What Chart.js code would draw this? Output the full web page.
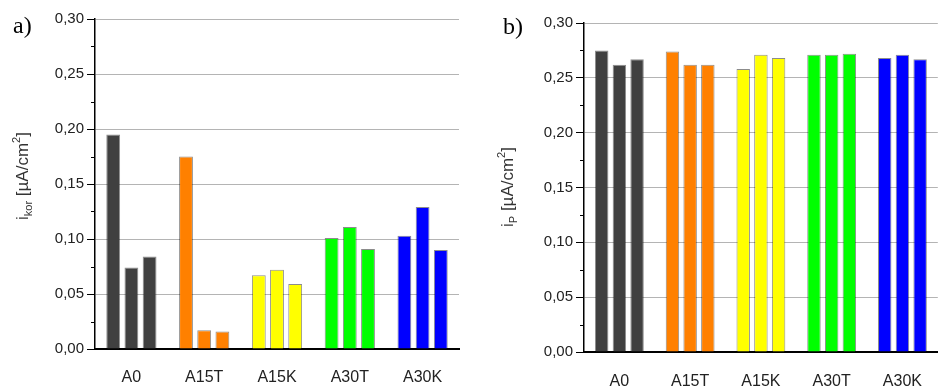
<!DOCTYPE html>
<html>
<head>
<meta charset="utf-8">
<script src="https://cdn.jsdelivr.net/npm/chart.js@4/dist/chart.umd.min.js"></script>
<style>
  html, body { margin: 0; padding: 0; background: #fff; overflow: hidden; }
  #wrap { position: relative; width: 938px; height: 389px; }
  canvas { position: absolute; top: 0; }
</style>
</head>
<body>
<div id="wrap">
  <canvas id="chartA" width="470" height="389" style="left:0px"></canvas>
  <canvas id="chartB" width="472" height="389" style="left:470px"></canvas>
</div>
<script>
// samples
const categories = ['A0', 'A15T', 'A15K', 'A30T', 'A30K'];

// a) corrosion current density i_kor [µA/cm2], three measurements per sample
const ikor1 = [0.195, 0.175, 0.067, 0.101, 0.103];
const ikor2 = [0.074, 0.017, 0.072, 0.111, 0.129];
const ikor3 = [0.084, 0.016, 0.059, 0.091, 0.090];

// b) passivation current density i_p [µA/cm2]
const ip1 = [0.275, 0.274, 0.258, 0.271, 0.268];
const ip2 = [0.262, 0.262, 0.271, 0.271, 0.271];
const ip3 = [0.267, 0.262, 0.268, 0.272, 0.267];

const sampleColors = ['#404040', '#ff8000', '#ffff00', '#00ff00', '#0000ff'];
const textFont = 'Liberation Sans';

// minor ticks, panel letter and the y title with sub/superscripts
const extras = {
    id: 'extras',
    afterDraw(chart, args, opts) {
        const ctx = chart.ctx;
        const y = chart.scales.y;
        const left = chart.chartArea.left;
        ctx.save();
        ctx.strokeStyle = '#000';
        ctx.lineWidth = 1;
        for (let i = 0; i < 6; i++) {
            const py = Math.round(y.getPixelForValue(0.025 + 0.05 * i)) + 0.5;
            ctx.beginPath();
            ctx.moveTo(left - 4, py);
            ctx.lineTo(left, py);
            ctx.stroke();
        }
        ctx.fillStyle = '#000';
        ctx.font = '24px "Liberation Serif"';
        ctx.textBaseline = 'alphabetic';
        ctx.fillText(opts.letter, opts.lx, opts.ly);

        // y axis title
        ctx.fillStyle = '#333';
        ctx.translate(opts.tx, opts.ty);
        ctx.rotate(-Math.PI / 2);
        let total = 0;
        opts.title.forEach(p => {
            ctx.font = p.size + 'px "' + textFont + '"';
            total += ctx.measureText(p.t).width;
        });
        let x = -total / 2;
        opts.title.forEach(p => {
            ctx.font = p.size + 'px "' + textFont + '"';
            ctx.fillText(p.t, x, 6 + p.dy);
            x += ctx.measureText(p.t).width;
        });
        ctx.restore();
    }
};

function makeDatasets(runs) {
    return runs.map(r => ({
        data: r,
        backgroundColor: sampleColors,
        borderColor: 'rgba(0,0,0,0.45)',
        borderWidth: 1,
        categoryPercentage: 0.75,
        barPercentage: 0.76
    }));
}

function makeChart(id, runs, cfg) {
    return new Chart(document.getElementById(id), {
        type: 'bar',
        data: { labels: categories, datasets: makeDatasets(runs) },
        plugins: [extras],
        options: {
            responsive: false,
            animation: false,
            layout: { padding: { left: 0, top: cfg.top, right: cfg.right, bottom: 0 } },
            plugins: {
                legend: { display: false },
                tooltip: { enabled: false },
                extras: cfg.extras
            },
            scales: {
                x: {
                    grid: { color: 'transparent', drawTicks: false },
                    border: { color: '#000', width: 2 },
                    ticks: { padding: cfg.xPad, color: '#222', font: { family: textFont, size: 16 } },
                    afterFit(s) { s.height = cfg.xHeight; }
                },
                y: {
                    min: 0,
                    max: 0.3,
                    ticks: {
                        stepSize: 0.05,
                        padding: 3,
                        color: '#222',
                        font: { family: textFont, size: 15 },
                        callback: v => v.toFixed(2).replace('.', ',')
                    },
                    grid: {
                        color: c => (c.tick && c.tick.value === 0) ? 'transparent' : '#b4b4b4',
                        tickColor: '#000',
                        tickLength: 8
                    },
                    border: { color: '#000', width: 1.5 },
                    afterFit(s) { s.width = cfg.yWidth; }
                }
            }
        }
    });
}

makeChart('chartA', [ikor1, ikor2, ikor3], {
    top: 19, right: 11, xHeight: 40, xPad: 19, yWidth: 95,
    extras: {
        letter: 'a)', lx: 13, ly: 33, tx: 22, ty: 176,
        title: [
            { t: 'i', size: 17, dy: 0 },
            { t: 'kor', size: 11, dy: 4 },
            { t: ' [\u00b5A/cm', size: 17, dy: 0 },
            { t: '2', size: 11, dy: -8 },
            { t: ']', size: 17, dy: 0 }
        ]
    }
});

makeChart('chartB', [ip1, ip2, ip3], {
    top: 23, right: 0, xHeight: 37, xPad: 20, yWidth: 114,
    extras: {
        letter: 'b)', lx: 33, ly: 34, tx: 37, ty: 187,
        title: [
            { t: 'i', size: 17, dy: 0 },
            { t: 'P', size: 11, dy: 4 },
            { t: ' [\u00b5A/cm', size: 17, dy: 0 },
            { t: '2', size: 11, dy: -8 },
            { t: ']', size: 17, dy: 0 }
        ]
    }
});
</script>
</body>
</html>
